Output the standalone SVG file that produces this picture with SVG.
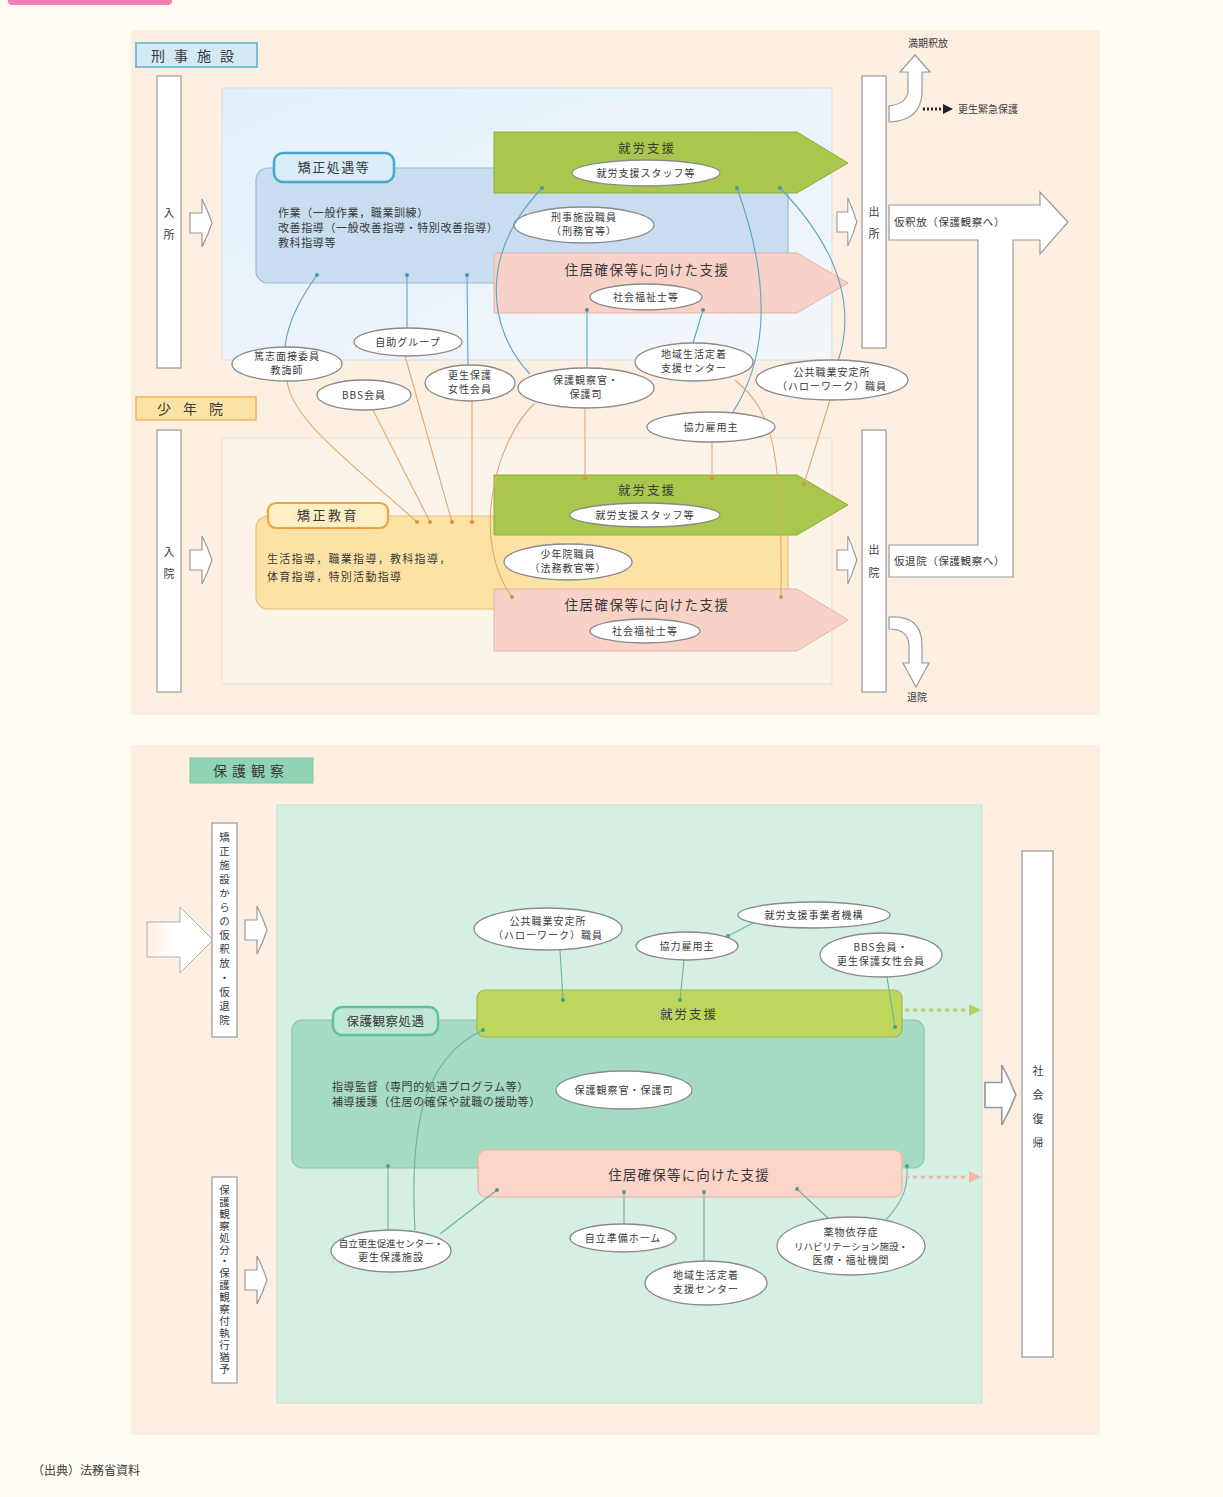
<svg xmlns="http://www.w3.org/2000/svg" width="1223" height="1497" viewBox="0 0 1223 1497">
<defs>
<style>
.t{font-family:"Noto Sans CJK JP","Noto Sans CJK SC",sans-serif;fill:#3a3a3a}
.e{fill:#fff;stroke:#8a8a8a;stroke-width:1.3}
.bar{fill:#fff;stroke:#a0a0a0;stroke-width:1.3}
.harrow{fill:#fff;stroke:#9a9a9a;stroke-width:1.2}
.et{font-size:10px;letter-spacing:1px;text-anchor:middle}
.tight{font-size:9.5px;letter-spacing:0px}
.bt{font-size:11px;letter-spacing:0.6px}
.hd{font-size:12.5px;letter-spacing:2px;text-anchor:middle}
.cb{fill:none;stroke:#5aa6c2;stroke-width:1.1}
.co{fill:none;stroke:#e2aa6c;stroke-width:1.1}
.cg{fill:none;stroke:#6db3a0;stroke-width:1.1}
.vt{font-size:11px;text-anchor:middle}
</style>
<marker id="db" markerWidth="6" markerHeight="6" refX="3" refY="3" markerUnits="userSpaceOnUse"><circle cx="3" cy="3" r="2" fill="#4a96b2"/></marker>
<marker id="do" markerWidth="6" markerHeight="6" refX="3" refY="3" markerUnits="userSpaceOnUse"><circle cx="3" cy="3" r="2" fill="#d8904a"/></marker>
<marker id="dg" markerWidth="6" markerHeight="6" refX="3" refY="3" markerUnits="userSpaceOnUse"><circle cx="3" cy="3" r="2" fill="#4fa08a"/></marker>
<path id="ha" d="M0,-10 L12,-10 L12,-24 Q18,-12 22,0 Q18,12 12,24 L12,10 L0,10 Z"/>
<linearGradient id="bigfade" x1="0" y1="0" x2="1" y2="0">
<stop offset="0" stop-color="#fff" stop-opacity="0"/>
<stop offset="0.4" stop-color="#fff" stop-opacity="1"/>
</linearGradient>
<linearGradient id="blueArea" x1="0" y1="0" x2="1" y2="1">
<stop offset="0" stop-color="#e3eff8"/>
<stop offset="1" stop-color="#f2f7fb"/>
</linearGradient>
</defs>

<rect x="0" y="0" width="1223" height="1497" fill="#fffcf3"/>
<rect x="8" y="-6" width="164" height="11" rx="4" fill="#f27fb2"/>

<!-- Top panel -->
<g id="panel-top">
<rect x="131" y="30" width="969" height="685" fill="#fdeee2"/>
<rect x="222" y="88" width="610" height="272" fill="url(#blueArea)" stroke="#d2dde5" stroke-width="1"/>
<rect x="222" y="438" width="610" height="246" fill="#fdf4e9" stroke="#eddccc" stroke-width="1"/>
</g>

<g id="label-keiji">
<rect x="136" y="43" width="121" height="24" fill="#d3e9f4" stroke="#79bfd8" stroke-width="2"/>
<text class="t" x="197" y="60.5" font-size="14" letter-spacing="9" text-anchor="middle">刑事施設</text>
</g>

<g id="bar-nyusho">
<rect class="bar" x="157" y="76" width="24" height="292"/>
<text class="t vt" x="169" y="217">入</text>
<text class="t vt" x="169" y="239">所</text>
<use href="#ha" class="harrow" transform="translate(190,223)"/>
</g>

<g id="kyosei-shogu">
<rect x="256" y="168" width="532" height="115" rx="12" fill="#c8ddef" stroke="#9fbbd0" stroke-width="1.2"/>
<rect x="274" y="153" width="120" height="29" rx="9" fill="#d9edf8" stroke="#47a8cc" stroke-width="2.5"/>
<text class="t" x="334" y="172" font-size="13" letter-spacing="1.5" text-anchor="middle">矯正処遇等</text>
<text class="t bt" x="278" y="217">作業（一般作業，職業訓練）</text>
<text class="t bt" x="278" y="232">改善指導（一般改善指導・特別改善指導）</text>
<text class="t bt" x="278" y="247">教科指導等</text>
</g>

<g id="shuro-keiji">
<polygon points="494,132 797,132 848,163 797,193 494,193" fill="#a9c74d" stroke="#8eaa3c" stroke-width="1"/>
<text class="t hd" x="647" y="153">就労支援</text>
<ellipse class="e" cx="646" cy="173" rx="74" ry="13"/>
<text class="t et" x="646" y="177">就労支援スタッフ等</text>
</g>

<g id="keiji-shokuin">
<ellipse class="e" cx="584" cy="225" rx="70" ry="18"/>
<text class="t et" x="584" y="221">刑事施設職員</text>
<text class="t et" x="584" y="235">（刑務官等）</text>
</g>

<g id="jukyo-keiji">
<polygon points="494,253 797,253 848,283 797,313 494,313" fill="#f9d1c6" stroke="#e3b4a6" stroke-width="1"/>
<text class="t" x="647" y="275" font-size="13.5" letter-spacing="1.5" text-anchor="middle">住居確保等に向けた支援</text>
<ellipse class="e" cx="646" cy="297" rx="56" ry="13"/>
<text class="t et" x="646" y="301">社会福祉士等</text>
</g>

<g id="bar-shussho">
<rect class="bar" x="862" y="76" width="24" height="272"/>
<text class="t vt" x="874" y="216">出</text>
<text class="t vt" x="874" y="238">所</text>
<use href="#ha" class="harrow" transform="translate(837,222) scale(0.9,1)"/>
</g>

<g id="manki">
<path class="harrow" d="M889,106 Q906,104 908,92 L908,72 L900,72 L915,55 L930,72 L922,72 L922,94 Q920,121 889,122 Z"/>
<text class="t" x="928" y="47" font-size="10" text-anchor="middle">満期釈放</text>
<line x1="923" y1="109" x2="944" y2="109" stroke="#222" stroke-width="3" stroke-dasharray="2,2"/>
<polygon points="943,104 953,109 943,114" fill="#222"/>
<text class="t" x="958" y="113" font-size="10">更生緊急保護</text>
</g>

<g id="karishakuho">
<path class="harrow" d="M889,205 L1040,205 L1040,192 L1068,222 L1040,254 L1040,240 L1013,240 L1013,577 L889,577 L889,545 L978,545 L978,240 L889,240 Z"/>
<text class="t" x="894" y="226" font-size="10.5" letter-spacing="0.6">仮釈放（保護観察へ）</text>
<text class="t" x="894" y="565" font-size="10.5" letter-spacing="0.6">仮退院（保護観察へ）</text>
</g>

<!-- 少年院 -->
<g id="label-shonen">
<rect x="136" y="397" width="120" height="23" fill="#fbe2a6" stroke="#eeb75e" stroke-width="1.5"/>
<text class="t" x="196" y="413.5" font-size="14" letter-spacing="12" text-anchor="middle">少年院</text>
</g>

<g id="bar-nyuin">
<rect class="bar" x="157" y="430" width="24" height="262"/>
<text class="t vt" x="169" y="556">入</text>
<text class="t vt" x="169" y="578">院</text>
<use href="#ha" class="harrow" transform="translate(190,560)"/>
</g>

<g id="kyosei-kyoiku">
<rect x="256" y="516" width="532" height="93" rx="12" fill="#fde2a6" stroke="#e7c27e" stroke-width="1.2"/>
<rect x="268" y="503" width="120" height="25" rx="8" fill="#fdeec6" stroke="#f0a33a" stroke-width="2.2"/>
<text class="t" x="328" y="520" font-size="13" letter-spacing="2.5" text-anchor="middle">矯正教育</text>
<text class="t" x="267" y="563" font-size="11" letter-spacing="1.3">生活指導，職業指導，教科指導，</text>
<text class="t" x="267" y="581" font-size="11" letter-spacing="1.3">体育指導，特別活動指導</text>
</g>

<g id="shuro-shonen">
<polygon points="494,475 797,475 848,505 797,535 494,535" fill="#a9c74d" stroke="#8eaa3c" stroke-width="1"/>
<text class="t hd" x="647" y="495">就労支援</text>
<ellipse class="e" cx="645" cy="515" rx="75" ry="12"/>
<text class="t et" x="645" y="519">就労支援スタッフ等</text>
</g>

<g id="shonen-shokuin">
<ellipse class="e" cx="568" cy="562" rx="64" ry="18"/>
<text class="t et" x="568" y="558">少年院職員</text>
<text class="t et" x="568" y="572">（法務教官等）</text>
</g>

<g id="jukyo-shonen">
<polygon points="494,589 797,589 848,620 797,651 494,651" fill="#f9d1c6" stroke="#e3b4a6" stroke-width="1"/>
<text class="t" x="647" y="610" font-size="13.5" letter-spacing="1.5" text-anchor="middle">住居確保等に向けた支援</text>
<ellipse class="e" cx="645" cy="631" rx="55" ry="12"/>
<text class="t et" x="645" y="635">社会福祉士等</text>
</g>

<g id="bar-shutsuin">
<rect class="bar" x="862" y="430" width="24" height="262"/>
<text class="t vt" x="874" y="554">出</text>
<text class="t vt" x="874" y="577">院</text>
<use href="#ha" class="harrow" transform="translate(837,560) scale(0.9,1)"/>
</g>

<g id="taiin">
<path class="harrow" d="M889,617 Q922,615 922,645 L922,663 L929,663 L916,687 L903,663 L909,663 L909,645 Q908,629 889,629 Z"/>
<text class="t" x="917" y="701" font-size="10" text-anchor="middle">退院</text>
</g>

<!-- connectors top -->
<g id="connectors-top">
<path class="cb" marker-end="url(#db)" d="M285,347 C288,318 305,292 317,275"/>
<path class="cb" marker-end="url(#db)" d="M407,328 L407,275"/>
<path class="cb" marker-end="url(#db)" d="M468,365 L467,275"/>
<path class="cb" marker-end="url(#db)" d="M530,374 C488,330 478,255 542,188"/>
<path class="cb" marker-end="url(#db)" d="M587,368 L587,310"/>
<path class="cb" marker-end="url(#db)" d="M693,343 L703,310"/>
<path class="cb" marker-end="url(#db)" d="M733,412 C760,370 778,300 737,188"/>
<path class="cb" marker-end="url(#db)" d="M838,361 C852,320 850,260 780,188"/>
<path class="co" marker-end="url(#do)" d="M287,380 C290,420 360,470 417,522"/>
<path class="co" marker-end="url(#do)" d="M373,410 L430,522"/>
<path class="co" marker-end="url(#do)" d="M405,356 L452,522"/>
<path class="co" marker-end="url(#do)" d="M472,400 L472,522"/>
<path class="co" marker-end="url(#do)" d="M535,403 C495,440 470,540 512,597"/>
<path class="co" marker-end="url(#do)" d="M585,408 L585,478"/>
<path class="co" marker-end="url(#do)" d="M712,442 L712,478"/>
<path class="co" marker-end="url(#do)" d="M735,380 C770,410 783,440 781,597"/>
<path class="co" marker-end="url(#do)" d="M830,400 L804,484"/>
</g>

<g id="ellipses-top">
<g id="tokushi"><ellipse class="e" cx="287" cy="364" rx="55" ry="17"/>
<text class="t et" x="287" y="360">篤志面接委員</text><text class="t et" x="287" y="374">教誨師</text></g>
<g id="jijo"><ellipse class="e" cx="408" cy="342" rx="54" ry="14"/>
<text class="t et" x="408" y="346">自助グループ</text></g>
<g id="bbs"><ellipse class="e" cx="364" cy="395" rx="47" ry="15"/>
<text class="t et" x="364" y="399">BBS会員</text></g>
<g id="josei"><ellipse class="e" cx="470" cy="383" rx="45" ry="18"/>
<text class="t et" x="470" y="379">更生保護</text><text class="t et" x="470" y="393">女性会員</text></g>
<g id="hogokansatsukan"><ellipse class="e" cx="586" cy="388" rx="68" ry="20"/>
<text class="t et" x="586" y="384">保護観察官・</text><text class="t et" x="586" y="398">保護司</text></g>
<g id="teichaku"><ellipse class="e" cx="694" cy="362" rx="59" ry="19"/>
<text class="t et" x="694" y="358">地域生活定着</text><text class="t et" x="694" y="372">支援センター</text></g>
<g id="hellowork"><ellipse class="e" cx="832" cy="380" rx="76" ry="20"/>
<text class="t et" x="832" y="376">公共職業安定所</text><text class="t et" x="832" y="390">（ハローワーク）職員</text></g>
<g id="kyoryoku"><ellipse class="e" cx="711" cy="427" rx="64" ry="15"/>
<text class="t et" x="711" y="431">協力雇用主</text></g>
</g>

<!-- Bottom panel -->
<g id="panel-bottom">
<rect x="131" y="745" width="969" height="690" fill="#fdeee2"/>
<rect x="277" y="805" width="705" height="598" fill="#d5efe3" stroke="#c4e2d4" stroke-width="1"/>
</g>

<g id="label-hogo">
<rect x="190" y="758" width="123" height="25" fill="#8fd4b4" stroke="#7fc8a6" stroke-width="1"/>
<text class="t" x="251" y="775.5" font-size="14" letter-spacing="5" text-anchor="middle" fill="#35564a">保護観察</text>
</g>

<g id="big-arrow">
<path d="M147,922 L180,922 L180,907 L213,940 L180,973 L180,957 L147,957 Z" fill="url(#bigfade)" stroke="#b0b0b0" stroke-width="1"/>
</g>

<g id="label-karishaku">
<rect class="bar" x="212" y="823" width="25" height="214"/>
<text class="t" x="224.5" y="930" font-size="10.5" letter-spacing="3.6" text-anchor="middle" style="writing-mode:vertical-rl">矯正施設からの仮釈放・仮退院</text>
<use href="#ha" class="harrow" transform="translate(245,930)"/>
</g>

<g id="label-shobun">
<rect class="bar" x="212" y="1177" width="25" height="206"/>
<text class="t" x="224.5" y="1280" font-size="10.5" letter-spacing="1.4" text-anchor="middle" style="writing-mode:vertical-rl">保護観察処分・保護観察付執行猶予</text>
<use href="#ha" class="harrow" transform="translate(245,1280)"/>
</g>

<g id="hogo-shogu">
<rect x="292" y="1020" width="632" height="148" rx="10" fill="#a6dbc3" stroke="#8cc7ad" stroke-width="1.2"/>
<rect x="333" y="1007" width="105" height="28" rx="9" fill="#bfe7d3" stroke="#5ec09c" stroke-width="2.5"/>
<text class="t" x="385.5" y="1026" font-size="12.5" letter-spacing="0.5" text-anchor="middle">保護観察処遇</text>
<text class="t bt" x="332" y="1091">指導監督（専門的処遇プログラム等）</text>
<text class="t bt" x="332" y="1106">補導援護（住居の確保や就職の援助等）</text>
</g>

<g id="shuro-hogo">
<rect x="477" y="990" width="425" height="47" rx="8" fill="#bed65c" stroke="#9fb94a" stroke-width="1.2"/>
<text class="t hd" x="689" y="1019">就労支援</text>
</g>

<g id="jukyo-hogo">
<rect x="478" y="1150" width="424" height="47" rx="8" fill="#fcd5c8" stroke="#e5b8a8" stroke-width="1.2"/>
<text class="t" x="689" y="1180" font-size="13.5" letter-spacing="1.2" text-anchor="middle">住居確保等に向けた支援</text>
</g>

<g id="hogokan-hogo">
<ellipse class="e" cx="624" cy="1090" rx="68" ry="19"/>
<text class="t et" x="624" y="1094">保護観察官・保護司</text>
</g>

<g id="bar-fukki">
<rect class="bar" x="1022" y="851" width="31" height="506"/>
<text class="t vt" x="1038" y="1075">社</text>
<text class="t vt" x="1038" y="1099">会</text>
<text class="t vt" x="1038" y="1123">復</text>
<text class="t vt" x="1038" y="1147">帰</text>
<use href="#ha" class="harrow" transform="translate(985,1095) scale(1.4,1.25)"/>
</g>

<g id="connectors-bottom">
<path class="cg" marker-end="url(#dg)" d="M560,950 L563,1000"/>
<path class="cg" marker-end="url(#dg)" d="M684,960 L680,1000"/>
<path class="cg" marker-end="url(#dg)" d="M755,922 L728,936"/>
<path class="cg" marker-end="url(#dg)" d="M887,977 L895,1027"/>
<path class="cg" marker-end="url(#dg)" d="M388,1230 L388,1166"/>
<path class="cg" marker-end="url(#dg)" d="M415,1230 C410,1140 418,1060 483,1030"/>
<path class="cg" marker-end="url(#dg)" d="M440,1234 L497,1190"/>
<path class="cg" marker-end="url(#dg)" d="M624,1224 L624,1192"/>
<path class="cg" marker-end="url(#dg)" d="M704,1261 L704,1192"/>
<path class="cg" marker-end="url(#dg)" d="M830,1220 L797,1189"/>
<path class="cg" marker-end="url(#dg)" d="M884,1222 C905,1200 908,1185 907,1166"/>
<line x1="905" y1="1010" x2="970" y2="1010" stroke="#b5d36a" stroke-width="3" stroke-dasharray="4,4"/>
<polygon points="969,1004 981,1010 969,1016" fill="#b5d36a"/>
<line x1="905" y1="1177" x2="970" y2="1177" stroke="#f4b7a6" stroke-width="3" stroke-dasharray="4,4"/>
<polygon points="969,1171 981,1177 969,1183" fill="#f4b7a6"/>
</g>

<g id="ellipses-bottom">
<g id="hw-b"><ellipse class="e" cx="548" cy="929" rx="74" ry="21"/>
<text class="t et" x="548" y="925">公共職業安定所</text><text class="t et" x="548" y="939">（ハローワーク）職員</text></g>
<g id="kyoryoku-b"><ellipse class="e" cx="687" cy="946" rx="51" ry="14"/>
<text class="t et" x="687" y="950">協力雇用主</text></g>
<g id="kiko-b"><ellipse class="e" cx="814" cy="915" rx="76" ry="13"/>
<text class="t et" x="814" y="919">就労支援事業者機構</text></g>
<g id="bbs-b"><ellipse class="e" cx="881" cy="955" rx="61" ry="22"/>
<text class="t et" x="881" y="951">BBS会員・</text><text class="t et" x="881" y="965">更生保護女性会員</text></g>
<g id="center-b"><ellipse class="e" cx="391" cy="1251" rx="60" ry="21"/>
<text class="t et tight" x="391" y="1247">自立更生促進センター・</text><text class="t et" x="391" y="1261">更生保護施設</text></g>
<g id="home-b"><ellipse class="e" cx="623" cy="1238" rx="53" ry="14"/>
<text class="t et" x="623" y="1242">自立準備ホーム</text></g>
<g id="teichaku-b"><ellipse class="e" cx="706" cy="1283" rx="61" ry="22"/>
<text class="t et" x="706" y="1279">地域生活定着</text><text class="t et" x="706" y="1293">支援センター</text></g>
<g id="yakubutsu-b"><ellipse class="e" cx="851" cy="1246" rx="74" ry="29"/>
<text class="t et" x="851" y="1236">薬物依存症</text><text class="t et tight" x="851" y="1250">リハビリテーション施設・</text><text class="t et" x="851" y="1264">医療・福祉機関</text></g>
</g>

<text class="t" x="32" y="1475" font-size="12">（出典）法務省資料</text>
</svg>
